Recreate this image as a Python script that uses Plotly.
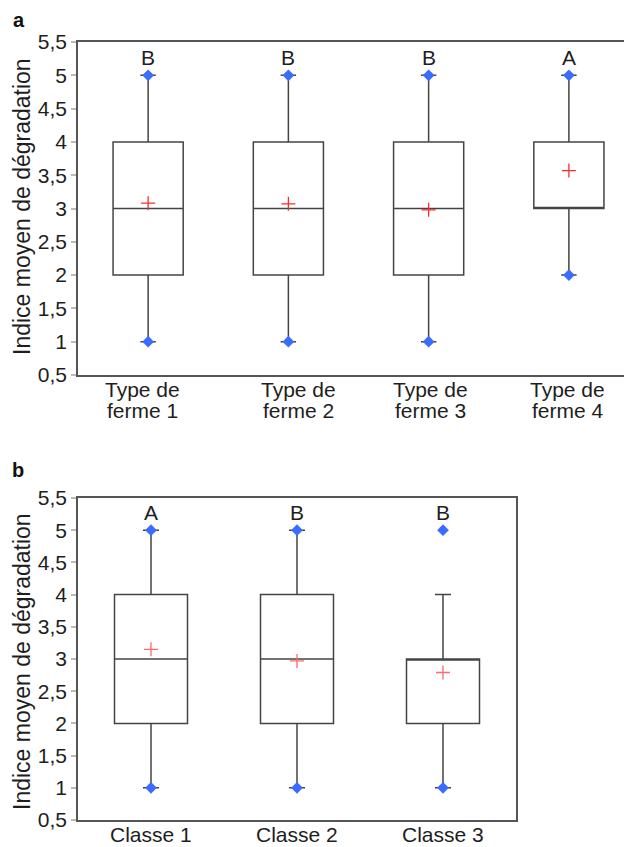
import plotly.graph_objects as go

# ---- Data ----
farm_label_line1 = ["Type de", "Type de", "Type de", "Type de"]
farm_label_line2 = ["ferme 1", "ferme 2", "ferme 3", "ferme 4"]
farm_min = [1, 1, 1, 2]
farm_q1 = [2, 2, 2, 3]
farm_median = [3, 3, 3, 3]
farm_q3 = [4, 4, 4, 4]
farm_upper_whisker = [5, 5, 5, 5]
farm_max = [5, 5, 5, 5]
farm_mean = [3.08, 3.07, 2.98, 3.57]
farm_letters = ["B", "B", "B", "A"]

class_labels = ["Classe 1", "Classe 2", "Classe 3"]
class_min = [1, 1, 1]
class_q1 = [2, 2, 2]
class_median = [3, 3, 3]
class_q3 = [4, 4, 3]
class_upper_whisker = [5, 5, 4]
class_max = [5, 5, 5]
class_mean = [3.15, 2.97, 2.79]
class_letters = ["A", "B", "B"]

y_tick_vals = [0.5, 1, 1.5, 2, 2.5, 3, 3.5, 4, 4.5, 5, 5.5]
y_tick_text = ["0,5", "1", "1,5", "2", "2,5", "3", "3,5", "4", "4,5", "5", "5,5"]
y_title = "Indice moyen de dégradation"

# ---- Geometry (page has an 8px body margin; compensate) ----
OFF = 8
W, H = 632 - OFF, 847 - OFF
FONT = "Liberation Sans, Arial, sans-serif"
TXT = "#1e1e1e"


def px(x):
    return (x - OFF) / W


def py(y):
    return 1 - (y - OFF) / H


fig = go.Figure()


def add_panel(xa, ya, n, mn, q1, med, q3, uw, mx, mean, letters, mean_color):
    pos = list(range(1, n + 1))
    fig.add_trace(go.Box(
        x=pos, q1=q1, median=med, q3=q3, lowerfence=mn, upperfence=uw,
        width=0.5, whiskerwidth=0.22,
        fillcolor="white", line=dict(color="#444444", width=1.5),
        boxpoints=False, hoverinfo="skip", showlegend=False,
        xaxis=xa, yaxis=ya,
    ))
    fig.add_trace(go.Scatter(
        x=pos + pos, y=list(mn) + list(mx), mode="markers",
        marker=dict(symbol="diamond", size=9, color="#3a6cff"),
        showlegend=False, xaxis=xa, yaxis=ya, cliponaxis=False,
    ))
    fig.add_trace(go.Scatter(
        x=pos, y=mean, mode="markers",
        marker=dict(symbol="cross-thin", size=10, line=dict(color=mean_color, width=1.3)),
        showlegend=False, xaxis=xa, yaxis=ya,
    ))
    for p, letter in zip(pos, letters):
        fig.add_annotation(x=p, y=5.27, xref=xa, yref=ya, text=letter, showarrow=False,
                           xanchor="center", yanchor="middle",
                           font=dict(size=21, color=TXT, family=FONT))


add_panel("x", "y", len(farm_label_line1), farm_min, farm_q1, farm_median, farm_q3,
          farm_upper_whisker, farm_max, farm_mean, farm_letters, "#ff2a2a")
add_panel("x2", "y2", len(class_labels), class_min, class_q1, class_median, class_q3,
          class_upper_whisker, class_max, class_mean, class_letters, "#ff6a6a")

axis_common = dict(showline=True, mirror=True, linecolor="#555", linewidth=1.5,
                   showgrid=False, zeroline=False)
yaxis_common = dict(axis_common, range=[0.5, 5.5], tickvals=y_tick_vals, ticktext=y_tick_text,
                    ticks="outside", ticklen=5, tickcolor="#bbb", tickwidth=1.5,
                    tickfont=dict(size=21, color=TXT, family=FONT))

fig.update_layout(
    width=W, height=H, margin=dict(l=0, r=0, t=0, b=0, autoexpand=False),
    paper_bgcolor="white", plot_bgcolor="white",
    xaxis=dict(axis_common, domain=[px(78), 1], range=[0.5, 4.45], anchor="y",
               showticklabels=False, ticks=""),
    yaxis=dict(yaxis_common, domain=[py(375), py(42)], anchor="x"),
    xaxis2=dict(axis_common, domain=[px(78), px(516)], range=[0.5, 3.5], anchor="y2",
                showticklabels=False, ticks=""),
    yaxis2=dict(yaxis_common, domain=[py(820), py(498)], anchor="x2"),
)

# category labels (two tight lines for panel a)
label_shift_a = [-6, 10, 2, -1]
for i, (l1, l2) in enumerate(zip(farm_label_line1, farm_label_line2)):
    fig.add_annotation(x=i + 1, y=py(389), xref="x", yref="paper", text=l1, showarrow=False,
                       xanchor="center", yanchor="middle", xshift=label_shift_a[i],
                       font=dict(size=21, color=TXT, family=FONT))
    fig.add_annotation(x=i + 1, y=py(410), xref="x", yref="paper", text=l2, showarrow=False,
                       xanchor="center", yanchor="middle", xshift=label_shift_a[i],
                       font=dict(size=21, color=TXT, family=FONT))
for i, lab in enumerate(class_labels):
    fig.add_annotation(x=i + 1, y=py(834), xref="x2", yref="paper", text=lab, showarrow=False,
                       xanchor="center", yanchor="middle",
                       font=dict(size=21, color=TXT, family=FONT))

# y-axis titles
for yc in (207, 662):
    fig.add_annotation(x=px(22), y=py(yc), xref="paper", yref="paper", text=y_title,
                       textangle=-90, showarrow=False, xanchor="center", yanchor="middle",
                       font=dict(size=23, color=TXT, family=FONT))
# panel letters
fig.add_annotation(x=px(19), y=py(OFF), xref="paper", yref="paper", text="<b>a</b>",
                   showarrow=False, xanchor="center", yanchor="top", borderpad=0,
                   font=dict(size=20, color="#111", family=FONT))
fig.add_annotation(x=px(18), y=py(470), xref="paper", yref="paper", text="<b>b</b>",
                   showarrow=False, xanchor="center", yanchor="middle",
                   font=dict(size=20, color="#111", family=FONT))

fig.write_html("out.html")
